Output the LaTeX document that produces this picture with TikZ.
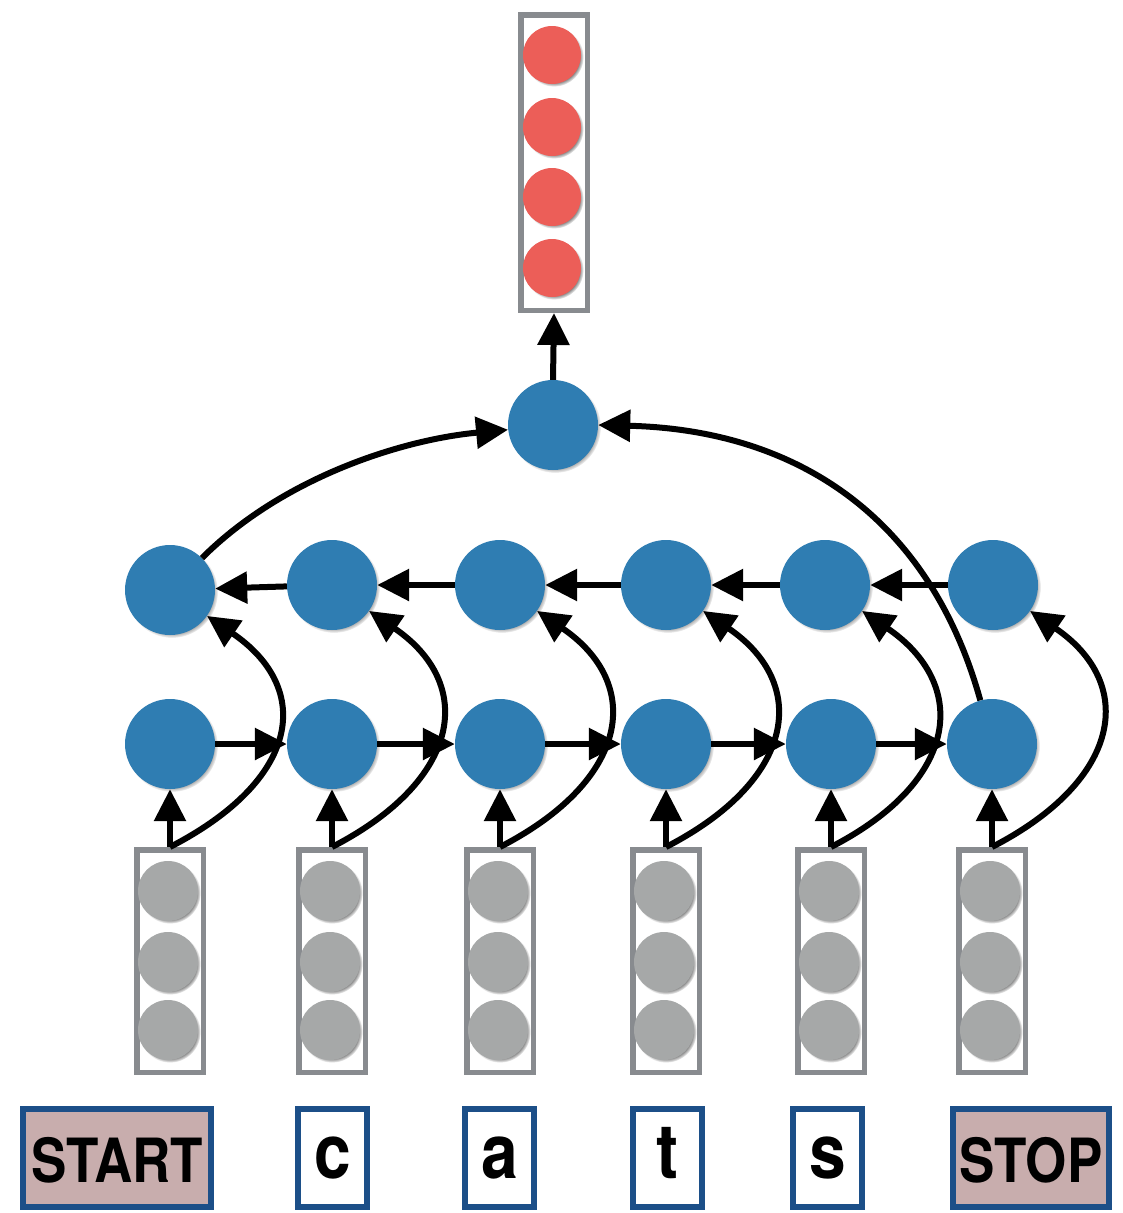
\documentclass[tikz,border=0pt]{standalone}
\usepackage{fontspec}
\newfontfamily\wordfont{TeX Gyre Heros}
\usetikzlibrary{arrows.meta,shadows,positioning}

\definecolor{lstmblue}{HTML}{2F7DB2}
\definecolor{outred}{HTML}{EC5E58}
\definecolor{embgray}{HTML}{A6A8A8}
\definecolor{boxgray}{HTML}{888B8F}
\definecolor{wordblue}{HTML}{1C4F88}
\definecolor{tagpink}{HTML}{C8ADAD}

\tikzset{
  unit/.style={circle, fill=lstmblue, minimum size=90pt, inner sep=0pt,
    circular drop shadow={shadow xshift=2pt, shadow yshift=-2pt, shadow scale=1.02}},
  embunit/.style={circle, fill=embgray, minimum size=60pt, inner sep=0pt,
    circular drop shadow={shadow xshift=2pt, shadow yshift=-2pt, shadow scale=1.02}},
  outunit/.style={embunit, fill=outred, minimum size=58pt},
  vecbox/.style={draw=boxgray, line width=5.5pt, fill=white, minimum width=66.5pt, inner sep=0pt},
  wordbox/.style={draw=wordblue, line width=6pt, fill=white, minimum height=98pt, minimum width=69pt,
    inner sep=0pt, text height=40pt, text depth=0pt,
    font=\wordfont\bfseries\fontsize{66}{66}\selectfont},
  tagbox/.style={wordbox, fill=tagpink, text height=48pt,
    font=\wordfont\bfseries\fontsize{53}{53}\selectfont},
  arr/.style={-{Triangle[length=32pt,width=31pt]}, line width=6pt},
}

\begin{document}
\begin{tikzpicture}[x=1pt, y=-1pt]
  \useasboundingbox (0,0) rectangle (1123,1213);

  % output vector
  \node[vecbox, minimum height=295.5pt] (out) at (554,162.5) {};
  \node[outunit] (o1) at (552,55) {};
  \node[outunit] (o2) at (552,127) {};
  \node[outunit] (o3) at (552,197) {};
  \node[outunit] (o4) at (552,268) {};
  \node[unit] (sent) at (553,425) {};

  % characters
  \node[tagbox, minimum width=188pt] (w0) at (117,1158) {\scalebox{1}[1.15]{START}};
  \node[wordbox] (w1) at (332.5,1158) {\scalebox{1}[1.15]{c}};
  \node[wordbox] (w2) at (499.5,1158) {\scalebox{1}[1.15]{a}};
  \node[wordbox] (w3) at (667.5,1158) {\scalebox{1}[1.15]{t}};
  \node[wordbox] (w4) at (827.5,1158) {\scalebox{1}[1.15]{s}};
  \node[tagbox, minimum width=156pt] (w5) at (1031,1158) {\scalebox{1}[1.15]{STOP}};

  \foreach \i/\xb/\xt/\yt in {0/170/170/590, 1/332/332/585, 2/500/500/585,
                              3/666/666/585, 4/831/825/585, 5/992/993/585} {
    \node[vecbox, minimum height=222.5pt] (emb\i) at (\xb,961) {};
    \node[embunit] (e\i a) at (\xb-2,891) {};
    \node[embunit] (e\i b) at (\xb-2,962) {};
    \node[embunit] (e\i c) at (\xb-2,1030) {};
    \node[unit] (fw\i) at (\xb,744) {};
    \node[unit] (bw\i) at (\xt,\yt) {};
  }

  % recurrent links
  \foreach \i in {0,...,4} {
    \pgfmathtruncatemacro\j{\i+1}
    \draw[arr] (fw\i) -- (fw\j);
    \draw[arr] (bw\j) -- (bw\i);
  }

  % inputs
  \foreach \i in {0,...,5} {
    \draw[arr] (emb\i.north) -- (fw\i.south);
    \draw[arr] (emb\i.north) .. controls +(130,-67) and +(107,73) .. (bw\i.-35);
  }

  \draw[arr] (bw0.45) .. controls +(80,-80) and +(-107,10) .. (sent.186);
  \draw[arr] (fw5.105) .. controls +(-50,-180) and +(202,5) .. (sent.0);
  \draw[arr] (sent.north) -- (out.south);
\end{tikzpicture}
\end{document}
